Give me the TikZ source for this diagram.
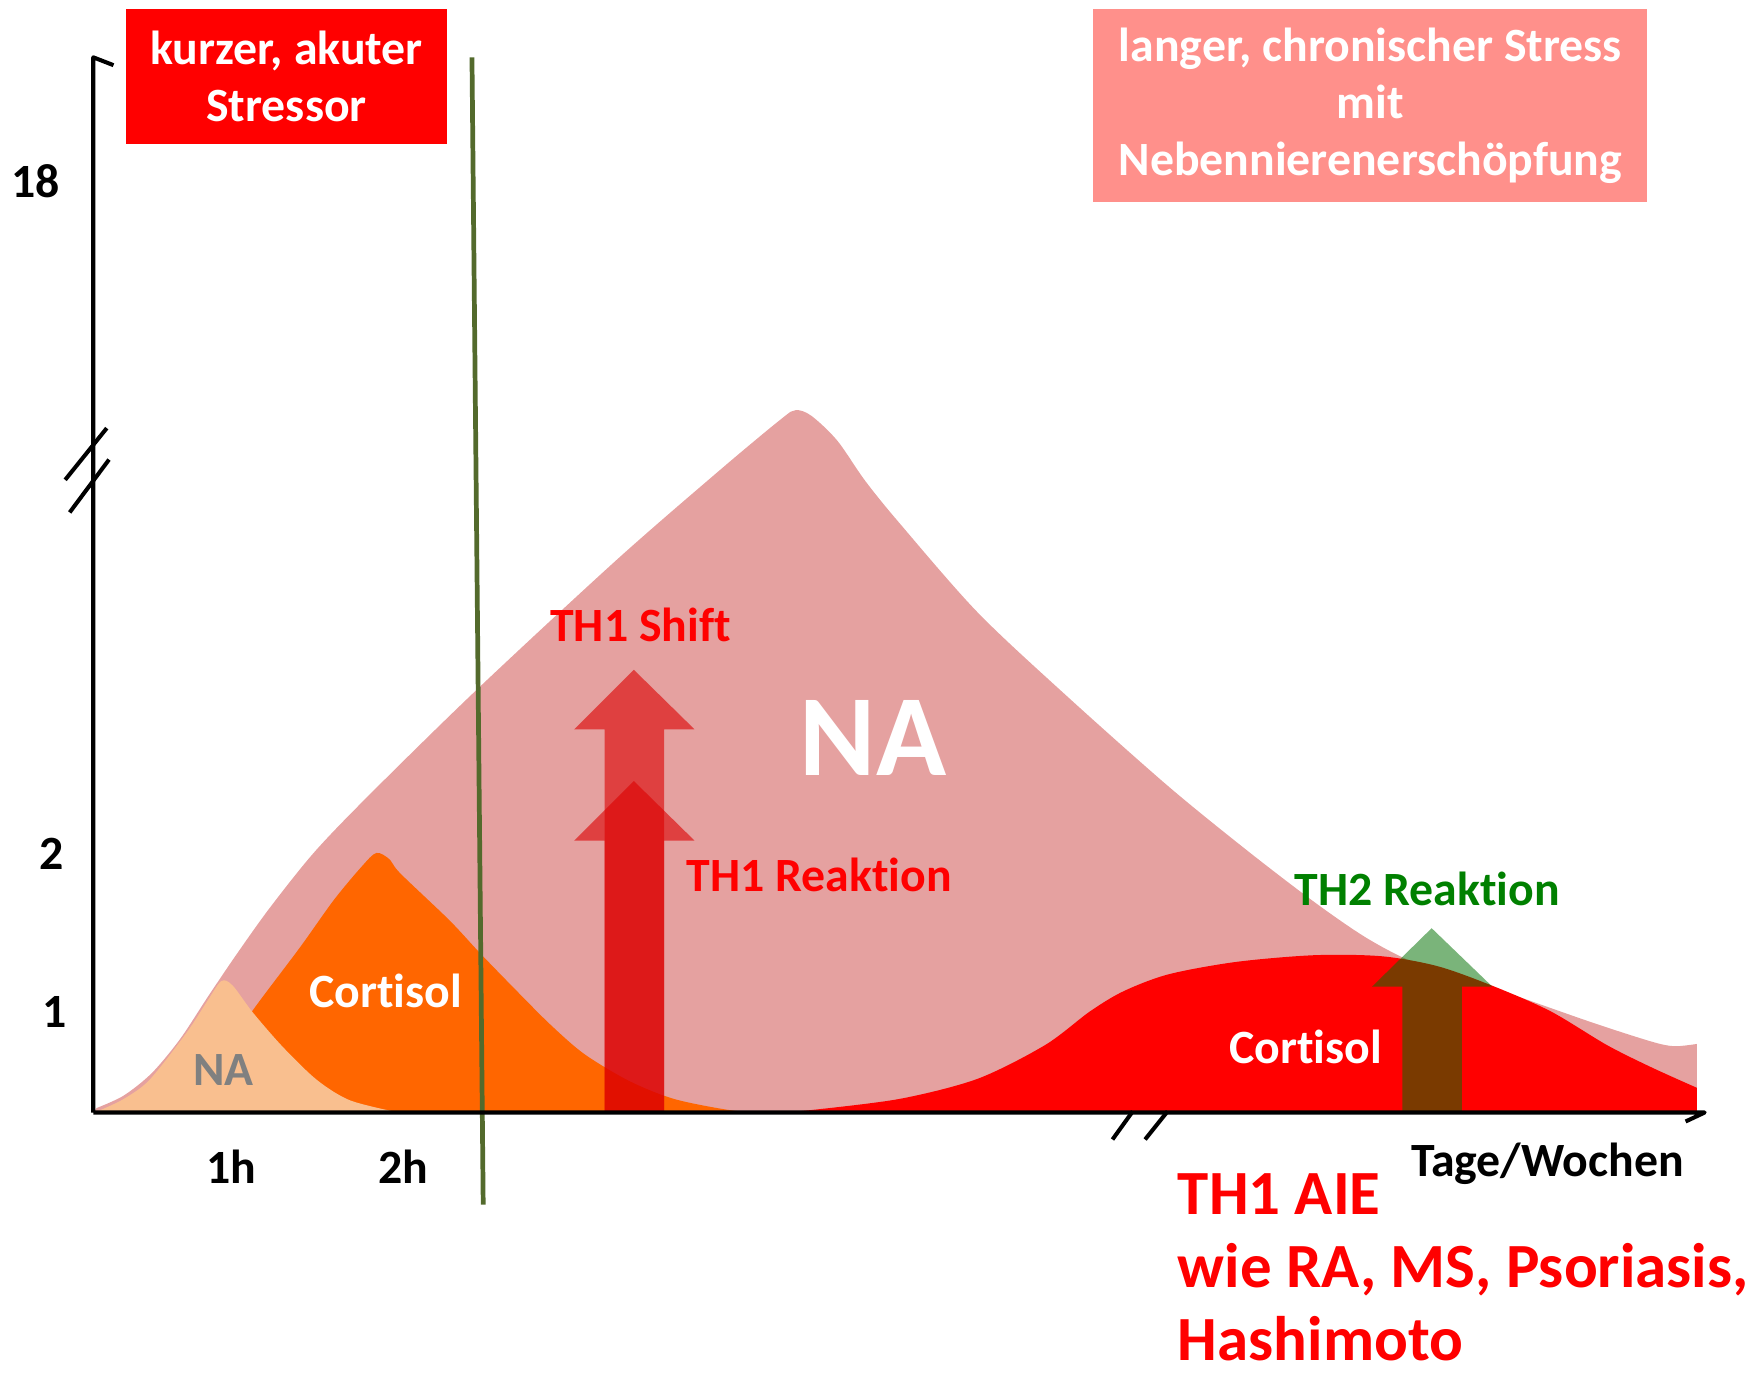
\documentclass[tikz,border=0pt]{standalone}
\usepackage{fontspec}
\setmainfont{Carlito}[Ligatures={NoCommon}]
\usepackage{tikz}
\usetikzlibrary{positioning,calc}
\definecolor{naPink}{HTML}{E5A1A0}
\definecolor{naLight}{HTML}{F9BF8F}
\definecolor{cortOrange}{HTML}{FF6600}
\definecolor{cortRed}{HTML}{FF0000}
\definecolor{chronBox}{HTML}{FF908B}
\definecolor{arrowRed}{HTML}{DC0000}
\definecolor{arrowGreen}{HTML}{007000}
\definecolor{thGreen}{HTML}{008000}
\definecolor{splitLine}{HTML}{536A2C}
\definecolor{naGray}{HTML}{808080}
\tikzset{
  axisline/.style={line width=3.6pt, black, line join=round},
  stressbox/.style={inner sep=0pt, font=\fontsize{42.5}{51}\selectfont\bfseries, text=white, align=center},
  ticklabel/.style={inner sep=0pt, anchor=base, font=\fontsize{42.5}{50}\selectfont\bfseries},
  curvelabel/.style={inner sep=0pt, anchor=base, font=\fontsize{42.5}{50}\selectfont\bfseries},
  thlabel/.style={curvelabel, text=cortRed},
  th1arrow/.style={fill=arrowRed, fill opacity=0.6},
  th2arrow/.style={fill=arrowGreen, fill opacity=0.52}
}

\begin{document}
\begin{tikzpicture}[x=1pt, y=-1pt]
  \useasboundingbox (0,0) rectangle (1568,1221);

  % axes points
  \coordinate (O) at (83,990);
  \coordinate (ytop) at (83,51);
  \coordinate (xend) at (1517,990);

  % NA, long stress
  \fill[naPink] (O) -- plot[smooth, tension=0.5] coordinates {(86,986) (110,975) (135,955) (160,925) (185,887) (210,850) (240,808) (280,758) (330,706) (424,614) (549,498) (641,418) (695,373) (708,365) (722,370) (745,392) (770,428) (800,465) (870,545) (950,620) (1040,700) (1110,757) (1170,803) (1215,834) (1255,855) (1300,869) (1360,890) (1420,911) (1470,927) (1490,931) (1510,929)} -- (1510,990) -- cycle;

  % cortisol, short stress
  \fill[cortOrange] (150,990) -- plot[smooth, tension=0.5] coordinates {(190,950) (225,899) (267,843) (297,801) (322,771) (335,759) (347,765) (356,777) (400,819) (427,848) (460,882) (490,912) (520,938) (560,962) (600,978) (650,988) (680,990)} -- cycle;

  % NA, short stress
  \fill[naLight] (O) -- plot[smooth, tension=0.5] coordinates {(89,988) (110,978) (133,961) (166,919) (185,890) (197,873) (207,877) (225,901) (252,932) (282,961) (311,979) (350,989)} -- (350,990) -- cycle;

  % cortisol, long stress
  \fill[cortRed] (700,990) -- plot[smooth, tension=0.5] coordinates {(720,988) (800,978) (870,960) (930,930) (970,900) (1000,882) (1040,867) (1100,856) (1170,850) (1230,851) (1280,860) (1330,878) (1380,900) (1430,930) (1470,950) (1510,968)} -- (1510,990) -- cycle;

  % TH arrows
  \fill[th1arrow] (538,990) -- (538,649) -- (511,649) -- (564,596) -- (618,649) -- (591,649) -- (591,990) -- cycle;
  \fill[th1arrow] (538,990) -- (538,748) -- (511,748) -- (564,695) -- (618,748) -- (591,748) -- (591,990) -- cycle;
  \fill[th2arrow] (1248,990) -- (1248,878) -- (1221,878) -- (1274,826) -- (1328,878) -- (1301,878) -- (1301,990) -- cycle;

  % boundary acute / chronic
  \draw[splitLine, line width=4.2pt] (420,51) -- (430,1072);

  % axes
  \draw[axisline] (O) -- (ytop) -- (101,58);
  \draw[axisline] (O) -- (xend) -- (1500,998);
  \draw[axisline] (58,427) -- (95,381);
  \draw[axisline] (62,456) -- (97,409);
  \draw[axisline] (990,1014) -- (1008,989);
  \draw[axisline] (1019,1014) -- (1039,989);

  % stress boxes
  \node[stressbox, fill=cortRed, minimum width=286pt, minimum height=120pt] (acute) at (255,68) {kurzer, akuter\\Stressor};
  \node[stressbox, fill=chronBox, minimum width=493pt, minimum height=172pt] (chronic) at (1219.5,94) {langer, chronischer Stress\\mit\\Nebennierenerschöpfung};

  % tick labels
  \node[ticklabel] (y18) at (32,176) {18};
  \node[ticklabel] (y2) at (46,774) {2};
  \node[ticklabel] (y1) at (49,914) {1};
  \node[ticklabel] (x1h) at (206,1053) {1h};
  \node[ticklabel] (x2h) at (359,1053) {2h};
  \node[ticklabel] (xlab) at (1377,1047) {Tage/Wochen};

  % curve labels
  \node[curvelabel, text=naGray] (naShort) at (199,966) {NA};
  \node[curvelabel, text=white] (cortShort) at (343,897) {Cortisol};
  \node[curvelabel, text=white] (cortLong) at (1162,946) {Cortisol};
  \node[curvelabel, text=white, font=\fontsize{103}{106}\selectfont\bfseries] (naLong) at (777,690) {NA};
  \node[thlabel] (shift) at (570,571) {TH1 Shift};
  \node[thlabel] (th1) at (729,793) {TH1 Reaktion};
  \node[curvelabel, text=thGreen] (th2) at (1270,806) {TH2 Reaktion};
  \node[inner sep=0pt, anchor=north west, align=left, text=cortRed, font=\fontsize{56}{65}\selectfont\bfseries] (aie) at (1048,1044) {TH1 AIE\\wie RA, MS, Psoriasis,\\Hashimoto};
\end{tikzpicture}
\end{document}
